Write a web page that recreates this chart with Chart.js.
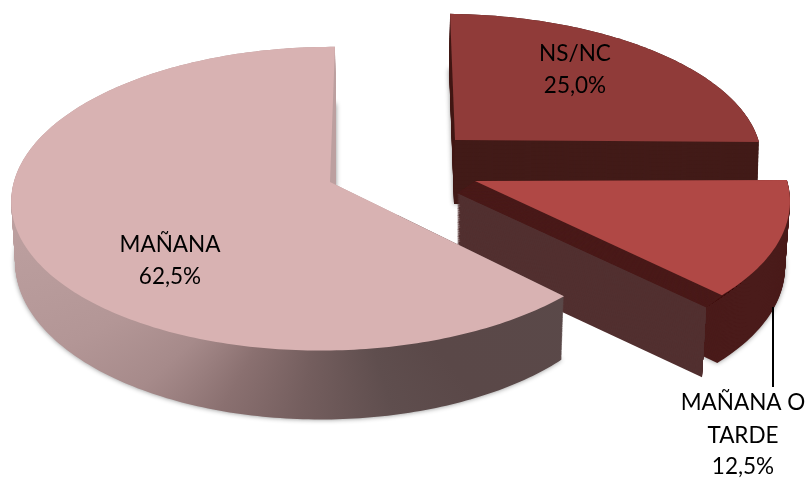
<!DOCTYPE html>
<html>
<head>
<meta charset="utf-8">
<script src="https://cdn.jsdelivr.net/npm/chart.js@4"></script>
<style>
  html, body { margin: 0; background: #fff; }
  canvas { display: block; }
</style>
</head>
<body>
<canvas id="pie" width="806" height="479"></canvas>
<script>
const categories = ['NS/NC', 'MAÑANA O TARDE', 'MAÑANA'];
const values = [25, 12.5, 62.5];
const topColors = ['#903b39', '#b04845', '#d8b2b2'];

// perspective of each slice: top face and bottom face, interpolated for the wall
const views = {
  nsTop: { cx: 455, cy: 140, f: 307, g: 140, h: 2, s: 5.5, p: 0.11, q: 0.01 },
  nsBottom: { cx: 454, cy: 204, f: 306, g: 150, h: 2, s: 5.5, p: 0.11, q: 0.01 },
  midTop: { cx: 475, cy: 181, f: 315, g: 151, h: -1, s: 9.6, p: 0.11, q: 0.01 },
  midBand: { cx: 457, cy: 193, f: 317, g: 150, h: 0, s: 10, p: 0.11, q: 0.01 },
  midBottom: { cx: 470, cy: 245, f: 315, g: 155, h: 0, s: 10, p: 0.11, q: 0.01 },
  cutTop: { cx: 457, cy: 193, f: 317, g: 150, h: 0, s: 10, p: 0.11, q: 0.01 },
  cutBottom: { cx: 457, cy: 263, f: 312, g: 150, h: 0, s: 10, p: 0.11, q: 0.01 },
  bigTop: { cx: 330, cy: 182, f: 313, g: 150, h: 0, s: -5.5, p: 0.11, q: 0.01 },
  bigBottom: { cx: 336, cy: 244, f: 304.5, g: 156, h: 0, s: 0, p: 0.11, q: 0.045 },
};

function mixView(a, b, t) {
  const out = {};
  Object.keys(a).forEach((k) => { out[k] = a[k] + (b[k] - a[k]) * t; });
  return out;
}

// hands an arc element a context that bends its path through the view
function projectedCtx(ctx, arc, view, fill) {
  const put = (px, py) => {
    const X = (px - arc.x) / arc.outerRadius;
    const Y = (py - arc.y) / arc.outerRadius;
    const w = 1 - view.p * Y + view.q * X;
    ctx.lineTo(view.cx + (view.f * X + view.s * Y) / w, view.cy + (view.g * Y + view.h * X) / w);
  };
  const over = {
    moveTo: put,
    lineTo: put,
    translate() {},
    arc(x, y, r, a0, a1) {
      const steps = Math.max(2, Math.ceil(Math.abs(a1 - a0) * 60));
      for (let i = 0; i <= steps; i++) {
        const a = a0 + (a1 - a0) * i / steps;
        put(x + r * Math.cos(a), y + r * Math.sin(a));
      }
    },
  };
  return new Proxy(ctx, {
    get(t, k) {
      if (k in over) return over[k];
      const v = t[k];
      return typeof v === 'function' ? v.bind(t) : v;
    },
    set(t, k, v) {
      t[k] = (k === 'fillStyle' && fill) ? fill : v;
      return true;
    },
  });
}

function drawWall(ctx, arc, from, to, fill, shadow) {
  const steps = 80;
  for (let i = steps; i >= 0; i--) {
    ctx.save();
    if (i === steps && shadow) {
      ctx.shadowColor = 'rgba(0,0,0,0.45)';
      ctx.shadowBlur = 5;
    }
    arc.draw(projectedCtx(ctx, arc, mixView(from, to, i / steps), fill));
    ctx.restore();
  }
}

function percent(v) {
  return v.toFixed(1).replace('.', ',') + '%';
}

const pie3d = {
  id: 'pie3d',
  beforeDatasetsDraw(chart) {
    const ctx = chart.ctx;
    const [ns, mid, big] = chart.getDatasetMeta(0).data;

    drawWall(ctx, ns, views.nsTop, views.nsBottom, '#421b18', true);
    ns.draw(projectedCtx(ctx, ns, views.nsTop));

    drawWall(ctx, mid, views.midTop, views.midBottom, '#4a1b1a', true);
    // brown cut face stops at a slanted edge
    ctx.save();
    ctx.beginPath();
    ctx.moveTo(0, 0);
    ctx.lineTo(706, 0);
    ctx.lineTo(706, 308);
    ctx.lineTo(702, 378);
    ctx.lineTo(702, 479);
    ctx.lineTo(0, 479);
    ctx.closePath();
    ctx.clip();
    drawWall(ctx, mid, views.cutTop, views.cutBottom, '#523030', false);
    ctx.restore();
    drawWall(ctx, mid, views.midTop, views.midBand, '#4a1b1a', false);
    mid.draw(projectedCtx(ctx, mid, views.midTop));

    const side = ctx.createConicGradient(0, 333, 215);
    side.addColorStop(0, '#5a4949');
    side.addColorStop(0.144, '#5a4848');
    side.addColorStop(0.203, '#5f4e4e');
    side.addColorStop(0.275, '#745e5e');
    side.addColorStop(0.333, '#8a7070');
    side.addColorStop(0.383, '#a68a8a');
    side.addColorStop(0.428, '#b39696');
    side.addColorStop(0.5, '#bda0a0');
    side.addColorStop(1, '#bb9e9e');
    drawWall(ctx, big, views.bigTop, views.bigBottom, side, true);
    big.draw(projectedCtx(ctx, big, views.bigTop));
    return false;
  },
  afterDraw(chart) {
    const ctx = chart.ctx;
    ctx.save();
    ctx.strokeStyle = '#000';
    ctx.lineWidth = 2;
    ctx.beginPath();
    ctx.moveTo(773, 307);
    ctx.lineTo(773, 387);
    ctx.stroke();
    ctx.fillStyle = '#000';
    ctx.font = '22.5px Lato';
    ctx.textAlign = 'center';
    ctx.textBaseline = 'middle';
    ctx.fillText(categories[0], 575, 54);
    ctx.fillText(percent(values[0]), 575, 86);
    ctx.fillText('MAÑANA O', 743, 403);
    ctx.fillText('TARDE', 743, 436);
    ctx.fillText(percent(values[1]), 743, 467);
    ctx.fillText(categories[2], 170, 245);
    ctx.fillText(percent(values[2]), 170, 277);
    ctx.restore();
  },
};

new Chart(document.getElementById('pie'), {
  type: 'pie',
  data: {
    labels: categories,
    datasets: [{ data: values, backgroundColor: topColors, borderWidth: 0 }],
  },
  options: {
    responsive: false,
    animation: false,
    plugins: { legend: { display: false }, tooltip: { enabled: false } },
  },
  plugins: [pie3d],
});
</script>
</body>
</html>
